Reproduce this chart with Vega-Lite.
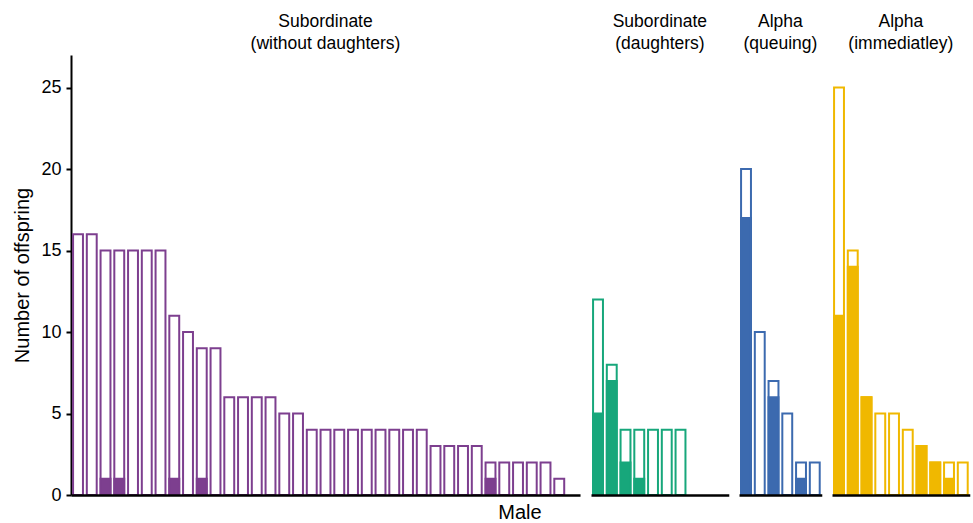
{
  "$schema": "https://vega.github.io/schema/vega-lite/v6.json",
  "background": "white",
  "padding": {"left": 12, "top": 12, "right": 3, "bottom": 0},
  "data": {"values": [
    {"group": "Subordinate|(without daughters)", "male": 1, "total": 16, "filled": 0},
    {"group": "Subordinate|(without daughters)", "male": 2, "total": 16, "filled": 0},
    {"group": "Subordinate|(without daughters)", "male": 3, "total": 15, "filled": 1},
    {"group": "Subordinate|(without daughters)", "male": 4, "total": 15, "filled": 1},
    {"group": "Subordinate|(without daughters)", "male": 5, "total": 15, "filled": 0},
    {"group": "Subordinate|(without daughters)", "male": 6, "total": 15, "filled": 0},
    {"group": "Subordinate|(without daughters)", "male": 7, "total": 15, "filled": 0},
    {"group": "Subordinate|(without daughters)", "male": 8, "total": 11, "filled": 1},
    {"group": "Subordinate|(without daughters)", "male": 9, "total": 10, "filled": 0},
    {"group": "Subordinate|(without daughters)", "male": 10, "total": 9, "filled": 1},
    {"group": "Subordinate|(without daughters)", "male": 11, "total": 9, "filled": 0},
    {"group": "Subordinate|(without daughters)", "male": 12, "total": 6, "filled": 0},
    {"group": "Subordinate|(without daughters)", "male": 13, "total": 6, "filled": 0},
    {"group": "Subordinate|(without daughters)", "male": 14, "total": 6, "filled": 0},
    {"group": "Subordinate|(without daughters)", "male": 15, "total": 6, "filled": 0},
    {"group": "Subordinate|(without daughters)", "male": 16, "total": 5, "filled": 0},
    {"group": "Subordinate|(without daughters)", "male": 17, "total": 5, "filled": 0},
    {"group": "Subordinate|(without daughters)", "male": 18, "total": 4, "filled": 0},
    {"group": "Subordinate|(without daughters)", "male": 19, "total": 4, "filled": 0},
    {"group": "Subordinate|(without daughters)", "male": 20, "total": 4, "filled": 0},
    {"group": "Subordinate|(without daughters)", "male": 21, "total": 4, "filled": 0},
    {"group": "Subordinate|(without daughters)", "male": 22, "total": 4, "filled": 0},
    {"group": "Subordinate|(without daughters)", "male": 23, "total": 4, "filled": 0},
    {"group": "Subordinate|(without daughters)", "male": 24, "total": 4, "filled": 0},
    {"group": "Subordinate|(without daughters)", "male": 25, "total": 4, "filled": 0},
    {"group": "Subordinate|(without daughters)", "male": 26, "total": 4, "filled": 0},
    {"group": "Subordinate|(without daughters)", "male": 27, "total": 3, "filled": 0},
    {"group": "Subordinate|(without daughters)", "male": 28, "total": 3, "filled": 0},
    {"group": "Subordinate|(without daughters)", "male": 29, "total": 3, "filled": 0},
    {"group": "Subordinate|(without daughters)", "male": 30, "total": 3, "filled": 0},
    {"group": "Subordinate|(without daughters)", "male": 31, "total": 2, "filled": 1},
    {"group": "Subordinate|(without daughters)", "male": 32, "total": 2, "filled": 0},
    {"group": "Subordinate|(without daughters)", "male": 33, "total": 2, "filled": 0},
    {"group": "Subordinate|(without daughters)", "male": 34, "total": 2, "filled": 0},
    {"group": "Subordinate|(without daughters)", "male": 35, "total": 2, "filled": 0},
    {"group": "Subordinate|(without daughters)", "male": 36, "total": 1, "filled": 0},
    {"group": "Subordinate|(without daughters)", "male": 37, "total": 0, "filled": 0},
    {"group": "Subordinate|(daughters)", "male": 1, "total": 12, "filled": 5},
    {"group": "Subordinate|(daughters)", "male": 2, "total": 8, "filled": 7},
    {"group": "Subordinate|(daughters)", "male": 3, "total": 4, "filled": 2},
    {"group": "Subordinate|(daughters)", "male": 4, "total": 4, "filled": 1},
    {"group": "Subordinate|(daughters)", "male": 5, "total": 4, "filled": 0},
    {"group": "Subordinate|(daughters)", "male": 6, "total": 4, "filled": 0},
    {"group": "Subordinate|(daughters)", "male": 7, "total": 4, "filled": 0},
    {"group": "Subordinate|(daughters)", "male": 8, "total": 0, "filled": 0},
    {"group": "Subordinate|(daughters)", "male": 9, "total": 0, "filled": 0},
    {"group": "Subordinate|(daughters)", "male": 10, "total": 0, "filled": 0},
    {"group": "Alpha|(queuing)", "male": 1, "total": 20, "filled": 17},
    {"group": "Alpha|(queuing)", "male": 2, "total": 10, "filled": 0},
    {"group": "Alpha|(queuing)", "male": 3, "total": 7, "filled": 6},
    {"group": "Alpha|(queuing)", "male": 4, "total": 5, "filled": 0},
    {"group": "Alpha|(queuing)", "male": 5, "total": 2, "filled": 1},
    {"group": "Alpha|(queuing)", "male": 6, "total": 2, "filled": 0},
    {"group": "Alpha|(immediatley)", "male": 1, "total": 25, "filled": 11},
    {"group": "Alpha|(immediatley)", "male": 2, "total": 15, "filled": 14},
    {"group": "Alpha|(immediatley)", "male": 3, "total": 6, "filled": 6},
    {"group": "Alpha|(immediatley)", "male": 4, "total": 5, "filled": 0},
    {"group": "Alpha|(immediatley)", "male": 5, "total": 5, "filled": 0},
    {"group": "Alpha|(immediatley)", "male": 6, "total": 4, "filled": 0},
    {"group": "Alpha|(immediatley)", "male": 7, "total": 3, "filled": 3},
    {"group": "Alpha|(immediatley)", "male": 8, "total": 2, "filled": 2},
    {"group": "Alpha|(immediatley)", "male": 9, "total": 2, "filled": 1},
    {"group": "Alpha|(immediatley)", "male": 10, "total": 2, "filled": 0}
  ]},
  "facet": {
    "column": {
      "field": "group",
      "type": "nominal",
      "sort": ["Subordinate|(without daughters)", "Subordinate|(daughters)", "Alpha|(queuing)", "Alpha|(immediatley)"],
      "header": {
        "labelExpr": "split(datum.value, '|')",
        "labelFont": "Liberation Sans",
        "labelFontSize": 17.5,
        "labelColor": "black",
        "labelOrient": "top",
        "labelPadding": 3,
        "labelLineHeight": 22,
        "title": "Male",
        "titleOrient": "bottom",
        "titleFont": "Liberation Sans",
        "titleFontSize": 20,
        "titleFontWeight": "normal",
        "titleColor": "black",
        "titlePadding": -3
      }
    }
  },
  "spacing": 10,
  "resolve": {"scale": {"x": "independent"}},
  "spec": {
    "width": {"step": 13.75},
    "height": 440,
    "encoding": {
      "x": {
        "field": "male",
        "type": "ordinal",
        "scale": {"paddingInner": 0.28, "paddingOuter": 0.15},
        "axis": {"labels": false, "ticks": false, "title": null, "grid": false, "domainColor": "black", "domainWidth": 2.4, "zindex": 1}
      }
    },
    "layer": [
      {
        "mark": {"type": "bar", "fill": "white", "strokeWidth": 2},
        "encoding": {
          "y": {
            "field": "total",
            "type": "quantitative",
            "scale": {"domain": [0, 27], "nice": false, "zero": true},
            "axis": {
              "title": "Number of offspring",
              "values": [0, 5, 10, 15, 20, 25],
              "grid": false,
              "domainColor": "black",
              "domainWidth": 2,
              "tickColor": "black",
              "tickWidth": 2,
              "tickSize": 5,
              "labelFont": "Liberation Sans",
              "labelFontSize": 18,
              "labelColor": "black",
              "labelPadding": 5,
              "titleFont": "Liberation Sans",
              "titleFontSize": 20,
              "titleFontWeight": "normal",
              "titleColor": "black",
              "titlePadding": 8
            }
          },
          "stroke": {
            "field": "group",
            "type": "nominal",
            "scale": {
              "domain": ["Subordinate|(without daughters)", "Subordinate|(daughters)", "Alpha|(queuing)", "Alpha|(immediatley)"],
              "range": ["#7D3F8F", "#17A77B", "#3C6AAF", "#F0B800"]
            },
            "legend": null
          },
          "strokeOpacity": {"condition": {"test": "datum.total == 0", "value": 0}, "value": 1}
        }
      },
      {
        "mark": {"type": "bar", "strokeWidth": 2},
        "encoding": {
          "y": {"field": "filled", "type": "quantitative"},
          "fill": {"field": "group", "type": "nominal", "legend": null,
            "scale": {
              "domain": ["Subordinate|(without daughters)", "Subordinate|(daughters)", "Alpha|(queuing)", "Alpha|(immediatley)"],
              "range": ["#7D3F8F", "#17A77B", "#3C6AAF", "#F0B800"]
            }
          },
          "stroke": {"field": "group", "type": "nominal", "legend": null},
          "strokeOpacity": {"condition": {"test": "datum.filled == 0", "value": 0}, "value": 1}
        }
      }
    ]
  },
  "config": {
    "view": {"stroke": null},
    "font": "Liberation Sans"
  }
}
